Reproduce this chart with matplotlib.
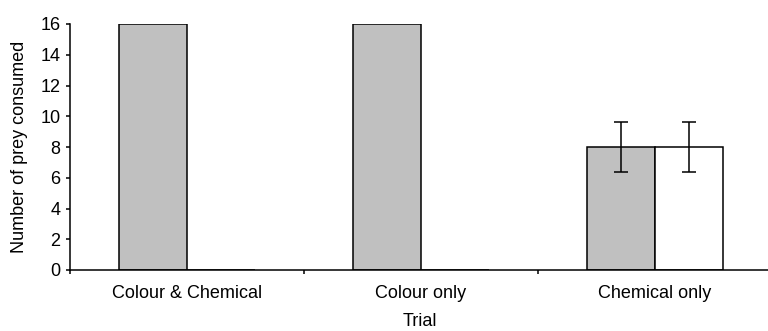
import matplotlib
matplotlib.use("Agg")
import matplotlib.pyplot as plt
import numpy as np

plt.rcParams['font.family'] = ['Liberation Sans', 'DejaVu Sans']

categories = ["Colour & Chemical", "Colour only", "Chemical only"]
grey_values = [16, 16, 8]
white_values = [0, 0, 8]
grey_err = [0, 0, 1.63]
white_err = [0, 0, 1.63]
y_ticks = [0, 2, 4, 6, 8, 10, 12, 14, 16]

FS = 13

fig = plt.figure(figsize=(7.68, 3.31), dpi=100)
ax = fig.add_axes([70/768, 61/331, 702/768, 246/331])

x = np.arange(len(categories))
w = 0.29
ax.bar(x - w/2, grey_values, width=w, color='#c0c0c0', edgecolor='black', linewidth=1.1)
ax.bar(x + w/2, white_values, width=w, color='white', edgecolor='black', linewidth=1.1)

for xi, v, e in zip(x - w/2, grey_values, grey_err):
    if e > 0:
        ax.errorbar(xi, v, yerr=e, fmt='none', ecolor='black', elinewidth=1.1, capsize=4.8, capthick=1.1)
for xi, v, e in zip(x + w/2, white_values, white_err):
    if e > 0:
        ax.errorbar(xi, v, yerr=e, fmt='none', ecolor='black', elinewidth=1.1, capsize=4.8, capthick=1.1)

ax.set_xlim(-0.5, len(categories) - 0.5)
ax.set_ylim(0, 16)
ax.set_yticks(y_ticks)
ax.set_yticklabels([str(t) for t in y_ticks], fontsize=FS)
ax.set_xticks(x)
ax.set_xticklabels(categories, fontsize=FS)
ax.set_xticks(np.arange(-0.5, len(categories)), minor=True)
ax.tick_params(axis='x', which='major', length=0, pad=11)
ax.tick_params(axis='x', which='minor', length=3, width=1.1, direction='out')
ax.tick_params(axis='y', length=3, width=1.1, direction='out', pad=4)

for s in ['top', 'right']:
    ax.spines[s].set_visible(False)
for s in ['left', 'bottom']:
    ax.spines[s].set_linewidth(1.1)

ax.set_ylabel("Number of prey consumed", fontsize=FS)
ax.yaxis.set_label_coords(-(70-28)/702, 0.5)
ax.set_xlabel("Trial", fontsize=FS)
ax.xaxis.label.set_verticalalignment('center')
ax.xaxis.set_label_coords((420-70)/702, -(322-270)/246)

fig.savefig("out.png", dpi=100)
